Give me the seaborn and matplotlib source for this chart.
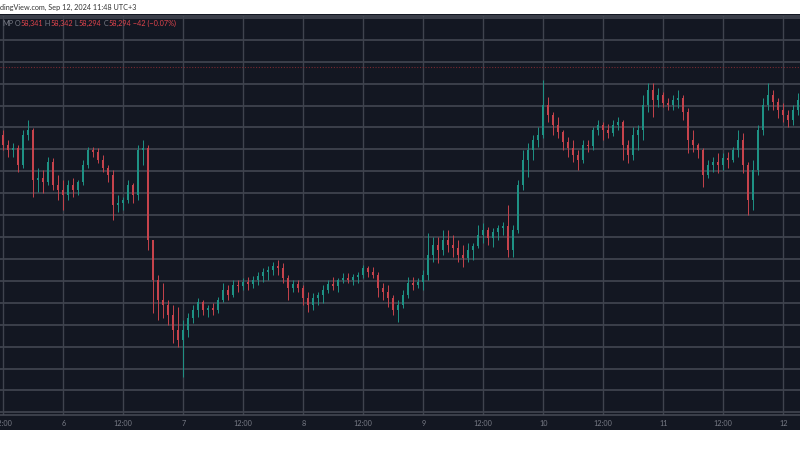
import numpy as np
import pandas as pd
import matplotlib
matplotlib.use("Agg")
import matplotlib.pyplot as plt
import seaborn as sns

# ---- data: 1h candles, hours counted from Sep 5 12:00 (UTC+3) ----
hours = list(range(-1, 160))
first_open = 57154
close = [57062,
         56880, 56789, 56825, 56515, 57062, 57154, 56241, 56278, 56205, 56570, 56150, 56059,
         55967, 56150, 56059, 56205, 56515, 56789, 56752, 56606, 56460, 56332, 55785, 55821,
         55876, 56150, 55967, 56789, 56825, 55146, 54416, 54051, 53960, 53777, 53504, 53321,
         53504, 53723, 53869, 54015, 53869, 53905, 53869, 54051, 54234, 54142, 54325, 54307,
         54380, 54343, 54416, 54489, 54562, 54599, 54672, 54635, 54453, 54270, 54343, 54270,
         54088, 53960, 54088, 54142, 54234, 54343, 54307, 54416, 54453, 54416, 54471, 54507,
         54635, 54562, 54507, 54270, 54197, 54088, 53869, 53960, 54142, 54361, 54325, 54380,
         54507, 54872, 55055, 54964, 55146, 55055, 55000, 54872, 54818, 54964, 55037, 55237,
         55329, 55183, 55292, 55365, 55402, 54964, 55329, 56150, 56606, 56789, 56971, 57062,
         57610, 57427, 57245, 57117, 56935, 56825, 56697, 56606, 56880, 56862, 57154, 57245,
         57154, 57099, 57245, 57300, 56880, 56697, 57062, 57154, 57610, 57884, 57701, 57792,
         57646, 57610, 57701, 57738, 57482, 56971, 56880, 56789, 56332, 56515, 56570, 56515,
         56643, 56606, 56789, 56971, 56515, 55876, 56424, 57154, 57610, 57792, 57665, 57519,
         57427, 57336, 57519, 57701]
high = [57245,
        57154, 56971, 56916, 56880, 57154, 57336, 57190, 56460, 56424, 56661, 56643, 56332,
        56241, 56241, 56278, 56241, 56606, 56843, 56843, 56825, 56697, 56515, 56424, 55967,
        55931, 56241, 56186, 56880, 56971, 56880, 55146, 54507, 54361, 54051, 53960, 53923,
        53686, 53814, 53960, 54088, 54051, 53960, 53996, 54106, 54361, 54325, 54416, 54416,
        54453, 54471, 54489, 54562, 54635, 54672, 54745, 54781, 54726, 54507, 54416, 54416,
        54325, 54197, 54179, 54197, 54325, 54416, 54471, 54453, 54544, 54544, 54526, 54562,
        54690, 54672, 54653, 54562, 54361, 54325, 54142, 54051, 54234, 54471, 54471, 54453,
        54599, 55274, 55201, 55201, 55329, 55329, 55237, 55146, 55055, 55091, 55091, 55420,
        55456, 55383, 55365, 55420, 55475, 55785, 55420, 56241, 56789, 56916, 57062, 57208,
        58066, 57756, 57482, 57391, 57154, 57026, 56971, 56789, 56971, 56971, 57208, 57336,
        57300, 57263, 57336, 57391, 57336, 56971, 57208, 57245, 57792, 58011, 58011, 57920,
        57847, 57738, 57792, 57884, 57792, 57555, 57154, 56916, 56825, 56606, 56661, 56734,
        56734, 56752, 56843, 57154, 57099, 56570, 56606, 57245, 57738, 58011, 57884, 57738,
        57646, 57519, 57610, 57829]
low = [56971,
       56789, 56661, 56661, 56387, 56460, 56971, 55931, 56022, 56004, 56150, 56059, 55876,
       55694, 55876, 55931, 55967, 56150, 56460, 56661, 56551, 56387, 56205, 55511, 55657,
       55694, 55821, 55821, 55876, 56515, 54964, 53814, 53686, 53723, 53595, 53266, 53193,
       52646, 53376, 53631, 53741, 53777, 53741, 53777, 53814, 54015, 54051, 54106, 54197,
       54234, 54234, 54270, 54325, 54380, 54416, 54507, 54507, 54361, 54051, 54197, 54197,
       53960, 53832, 53869, 53960, 53996, 54179, 54234, 54197, 54361, 54361, 54325, 54361,
       54453, 54471, 54453, 54106, 54051, 53923, 53777, 53650, 53905, 54088, 54234, 54270,
       54234, 54416, 54745, 54726, 54872, 54927, 54836, 54745, 54653, 54745, 54781, 55000,
       55091, 55055, 55018, 55146, 55237, 54836, 54836, 55274, 56059, 56296, 56606, 56843,
       57008, 57300, 57062, 57008, 56789, 56661, 56570, 56424, 56551, 56752, 56789, 57062,
       56971, 57008, 57044, 57154, 56606, 56551, 56606, 56789, 56971, 57482, 57391, 57573,
       57573, 57519, 57519, 57555, 57336, 56734, 56752, 56643, 56113, 56278, 56387, 56369,
       56424, 56460, 56570, 56661, 56369, 55602, 55694, 56332, 57062, 57519, 57519, 57373,
       57300, 57208, 57245, 57427]

tick_hours = [0, 12, 24, 36, 48, 60, 72, 84, 96, 108, 120, 132, 144, 156]
tick_labels = ["12:00", "6", "12:00", "7", "12:00", "8", "12:00", "9",
               "12:00", "10", "12:00", "11", "12:00", "12"]
grid_prices = list(range(52000, 59201, 400))
last_price = 58294
header_text = "dingView.com, Sep 12, 2024 11:48 UTC+3"
legend_items = [("MP", "#787b86"), (" O", "#787b86"), ("58,341", "#e0444c"),
                (" H", "#787b86"), ("58,342", "#e0444c"), (" L", "#787b86"),
                ("58,294", "#e0444c"), (" C", "#787b86"), ("58,294", "#e0444c"),
                (" \u221242 (\u22120.07%)", "#e0444c")]

# ---- frame ----
df = pd.DataFrame({"h": hours, "close": close, "high": high, "low": low})
df["open"] = [first_open] + close[:-1]
df["up"] = df["close"] >= df["open"]

BG = "#131722"
GRID = "#474b56"
UP = "#1e9285"
DOWN = "#c6434c"

sns.set_theme(style="dark", rc={"axes.facecolor": BG, "figure.facecolor": "white"})
plt.rcParams["font.family"] = ["Lato", "DejaVu Sans"]

fig = plt.figure(figsize=(8, 4.5), dpi=100)
bg_ax = fig.add_axes([0, 1 - 430 / 450, 1, 416 / 450], zorder=-5)
bg_ax.set_facecolor(BG)
bg_ax.set_xticks([])
bg_ax.set_yticks([])
for s in bg_ax.spines.values():
    s.set_visible(False)

ax = fig.add_axes([0, 1 - 415 / 450, 1, (415 - 15.5) / 450], zorder=1)
ax.set_facecolor(BG)
ax.set_xlim(-0.66, 159.34)
ax.set_ylim(51952, 59243)

for p in grid_prices:
    ax.axhline(p, color=GRID, lw=1.1, zorder=1)
for t in tick_hours:
    ax.axvline(t, color="#3f434e", lw=1.0, zorder=1)

ax.axhline(last_price, color="#7a2a31", lw=0.8, ls=(0, (1, 1.5)), zorder=2)

colors = np.where(df["up"], UP, DOWN)
ax.vlines(df["h"], df["low"], df["high"], colors=colors, lw=0.7, zorder=3)
body_lo = np.minimum(df["open"], df["close"])
body_h = np.maximum(np.abs(df["close"] - df["open"]), 12)
ax.bar(df["h"], body_h, bottom=body_lo, width=0.42, color=colors, linewidth=0, zorder=4)

ax.set_xticks(tick_hours)
ax.set_xticklabels(tick_labels, fontsize=5.2, color="#787b86")
ax.tick_params(axis="x", length=0, pad=3.5)
ax.set_yticks([])
ax.set_xlabel("")
ax.set_ylabel("")
ax.grid(False)
for s in ["left", "right"]:
    ax.spines[s].set_visible(False)
for s in ["top", "bottom"]:
    ax.spines[s].set_color(GRID)
    ax.spines[s].set_linewidth(1.1)

fig.text(0.0, 1 - 7.5 / 450, header_text, fontsize=5.2, color="#333333",
         ha="left", va="center")

# OHLC legend
x = 2 / 800
renderer = fig.canvas.get_renderer()
for txt, col in legend_items:
    t = fig.text(x, 1 - 23 / 450, txt, fontsize=5.2, color=col, ha="left", va="center",
                 zorder=10)
    bb = t.get_window_extent(renderer=renderer)
    x += bb.width / fig.bbox.width

fig.savefig("out.png", dpi=100, facecolor="white")
